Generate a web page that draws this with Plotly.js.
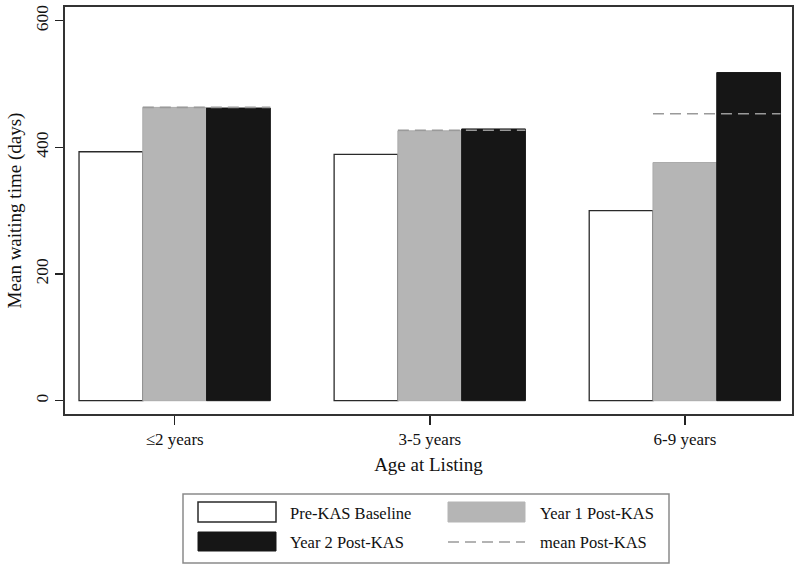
<!DOCTYPE html>
<html>
<head>
<meta charset="utf-8">
<script src="https://cdn.plot.ly/plotly-3.0.1.min.js"></script>
<style>html,body{margin:0;padding:0;background:#fff;}#chart{width:800px;height:567px;}</style>
</head>
<body>
<div id="chart"></div>
<script>
const categories = ["\u22642 years", "3-5 years", "6-9 years"];
const preKAS = [393, 389, 300];
const year1Post = [463, 426, 376];
const year2Post = [462, 429, 518];
const meanPost = [463, 427, 453];
const yTicks = [0, 200, 400, 600];
const seriesNames = ["Pre-KAS Baseline", "Year 1 Post-KAS", "Year 2 Post-KAS", "mean Post-KAS"];

const idx = categories.map((c, i) => i);
const barW = 0.25;

const mx = [], my = [];
idx.forEach(i => {
  mx.push(i - barW / 2, i + barW * 1.5, null);
  my.push(meanPost[i], meanPost[i], null);
});

const whiteStyle = {color: '#ffffff', line: {color: '#2a2a2a', width: 1.3}};
const grayStyle = {color: '#b5b5b5', line: {color: '#aaaaaa', width: 1}};
const blackStyle = {color: '#161616', line: {color: '#161616', width: 1}};
const dashStyle = {color: '#9a9a9a', width: 1.6, dash: '11px,6px'};

const traces = [
  {type: 'bar', name: seriesNames[0], x: idx, y: preKAS, width: barW, marker: whiteStyle, hoverinfo: 'y'},
  {type: 'bar', name: seriesNames[1], x: idx, y: year1Post, width: barW, marker: grayStyle, hoverinfo: 'y'},
  {type: 'bar', name: seriesNames[2], x: idx, y: year2Post, width: barW, marker: blackStyle, hoverinfo: 'y'},
  {type: 'scatter', mode: 'lines', name: seriesNames[3], x: mx, y: my, line: dashStyle, connectgaps: false, hoverinfo: 'y'}
];

const font = {family: '"Liberation Serif", "DejaVu Serif", serif', color: '#111'};

// Legend drawn in paper coordinates (pixel -> paper conversion for the plot area)
const L = 65, R = 792, T = 7, B = 414;
const px = v => (v - L) / (R - L);
const py = v => (B - v) / (B - T);

const shapes = [
  {type: 'rect', xref: 'paper', yref: 'paper', x0: px(183), x1: px(669), y0: py(494), y1: py(563),
   line: {color: '#8a8a8a', width: 1.5}, fillcolor: '#ffffff', layer: 'above'},
  {type: 'rect', xref: 'paper', yref: 'paper', x0: px(198), x1: px(276), y0: py(502), y1: py(522),
   line: {color: '#2a2a2a', width: 1.5}, fillcolor: whiteStyle.color},
  {type: 'rect', xref: 'paper', yref: 'paper', x0: px(448), x1: px(525), y0: py(502), y1: py(522),
   line: {color: '#b5b5b5', width: 1}, fillcolor: grayStyle.color},
  {type: 'rect', xref: 'paper', yref: 'paper', x0: px(198), x1: px(276), y0: py(532), y1: py(551),
   line: {color: '#161616', width: 1}, fillcolor: blackStyle.color},
  {type: 'line', xref: 'paper', yref: 'paper', x0: px(448), x1: px(525), y0: py(542), y1: py(542),
   line: dashStyle}
];
const legFont = {family: font.family, size: 16.5, color: '#111'};
const annotations = [
  {text: seriesNames[0], x: px(288), y: py(513)},
  {text: seriesNames[1], x: px(538), y: py(513)},
  {text: seriesNames[2], x: px(288), y: py(542)},
  {text: seriesNames[3], x: px(538), y: py(542)}
].map(a => Object.assign(a, {xref: 'paper', yref: 'paper', xanchor: 'left', yanchor: 'middle',
  showarrow: false, font: legFont}));

const layout = {
  width: 800, height: 567,
  margin: {l: L, r: 800 - R, t: T, b: 567 - B},
  paper_bgcolor: '#ffffff', plot_bgcolor: '#ffffff',
  font: font,
  barmode: 'group', bargap: 0.25, bargroupgap: 0,
  showlegend: false,
  xaxis: {
    range: [-0.43, 2.42], tickvals: idx, ticktext: categories, automargin: false,
    ticks: 'outside', ticklen: 9, tickwidth: 1.5, tickcolor: '#222',
    showline: true, linecolor: '#333', linewidth: 1.6, mirror: true,
    showgrid: false, zeroline: false,
    tickfont: {family: font.family, size: 17, color: '#111'},
    title: {text: 'Age at Listing', font: {family: font.family, size: 19, color: '#111'}, standoff: 9}
  },
  yaxis: {
    range: [-21, 621.5], tickvals: yTicks, automargin: false,
    ticks: 'outside', ticklen: 8, tickwidth: 1.5, tickcolor: '#222',
    tickangle: -90,
    showline: true, linecolor: '#333', linewidth: 1.6, mirror: true,
    showgrid: false, zeroline: false,
    tickfont: {family: font.family, size: 17.5, color: '#111'},
    title: {text: 'Mean waiting time (days)', font: {family: font.family, size: 19, color: '#111'}, standoff: 6}
  },
  shapes: shapes,
  annotations: annotations
};

Plotly.newPlot('chart', traces, layout, {displayModeBar: false, staticPlot: true});
</script>
</body>
</html>
